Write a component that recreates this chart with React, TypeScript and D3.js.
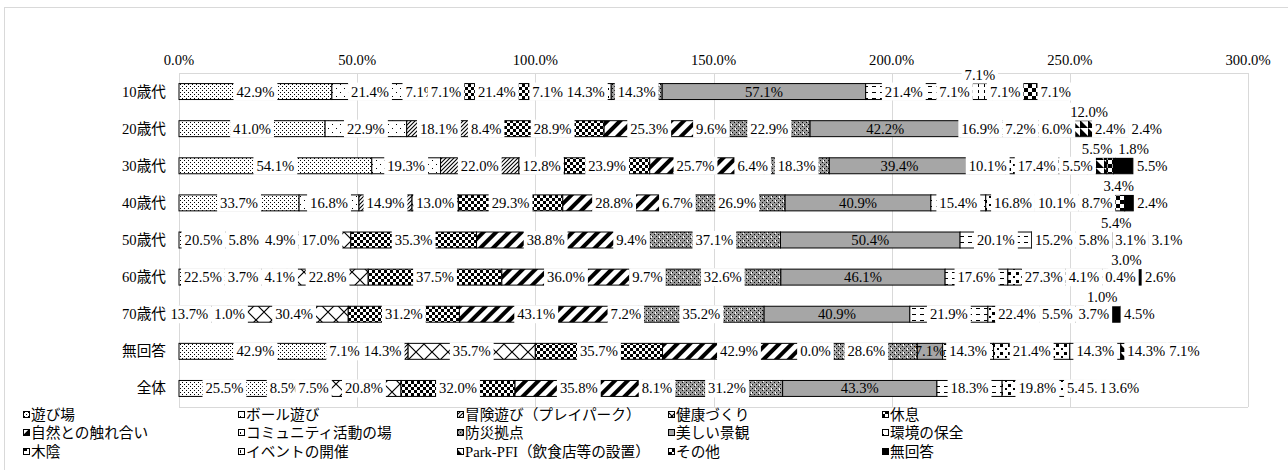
import React, { useEffect, useRef } from "react";
import * as d3 from "d3";

const categories = ["10歳代", "20歳代", "30歳代", "40歳代", "50歳代", "60歳代", "70歳代", "無回答", "全体"];

const seriesNames = [
  "遊び場",
  "ボール遊び",
  "冒険遊び（プレイパーク）",
  "健康づくり",
  "休息",
  "自然との触れ合い",
  "コミュニティ活動の場",
  "防災拠点",
  "美しい景観",
  "環境の保全",
  "木陰",
  "イベントの開催",
  "Park-PFI（飲食店等の設置）",
  "その他",
  "無回答",
];

// values (%) per category, in category order
const playground = [42.9, 41.0, 54.1, 33.7, 20.5, 22.5, 13.7, 42.9, 25.5];
const ballGames = [21.4, 22.9, 19.3, 16.8, 5.8, 3.7, 1.0, 7.1, 8.5];
const adventurePlay = [7.1, 18.1, 22.0, 14.9, 4.9, 4.1, 2.4, 14.3, 7.5];
const health = [7.1, 8.4, 12.8, 13.0, 17.0, 22.8, 30.4, 35.7, 20.8];
const rest = [21.4, 28.9, 23.9, 29.3, 35.3, 37.5, 31.2, 35.7, 32.0];
const nature = [7.1, 25.3, 25.7, 28.8, 38.8, 36.0, 43.1, 42.9, 35.8];
const community = [14.3, 9.6, 6.4, 6.7, 9.4, 9.7, 7.2, 0.0, 8.1];
const disasterBase = [14.3, 22.9, 18.3, 26.9, 37.1, 32.6, 35.2, 28.6, 31.2];
const scenery = [57.1, 42.2, 39.4, 40.9, 50.4, 46.1, 40.9, 7.1, 43.3];
const environment = [21.4, 16.9, 10.1, 15.4, 20.1, 17.6, 21.9, 14.3, 18.3];
const shade = [7.1, 7.2, 17.4, 16.8, 15.2, 27.3, 22.4, 21.4, 19.8];
const events = [7.1, 6.0, 5.5, 10.1, 5.8, 4.1, 5.5, 14.3, 5.4];
const parkPFI = [7.1, 12.0, 5.5, 8.7, 5.4, 0.4, 3.7, 14.3, 5.7];
const other = [7.1, 2.4, 1.8, 3.4, 3.1, 3.0, 1.0, 0.0, 1.5];
const noAnswer = [7.1, 2.4, 5.5, 2.4, 3.1, 2.6, 4.5, 7.1, 3.6];

const seriesValues = [
  playground, ballGames, adventurePlay, health, rest, nature, community,
  disasterBase, scenery, environment, shade, events, parkPFI, other, noAnswer,
];

const axisTicks = [0, 50, 100, 150, 200, 250, 300];
const tickLabels = ["0.0%", "50.0%", "100.0%", "150.0%", "200.0%", "250.0%", "300.0%"];

// data-label layout choices seen in the original (deleted / moved labels)
const hiddenLabels: [string, string][] = [
  ["10歳代", "その他"],
  ["70歳代", "冒険遊び（プレイパーク）"],
  ["無回答", "その他"],
];
const raisedLabels: [string, string][] = [
  ["10歳代", "イベントの開催"],
  ["20歳代", "Park-PFI（飲食店等の設置）"],
  ["30歳代", "Park-PFI（飲食店等の設置）"],
  ["30歳代", "その他"],
  ["40歳代", "その他"],
  ["50歳代", "Park-PFI（飲食店等の設置）"],
  ["60歳代", "その他"],
  ["70歳代", "その他"],
];
const rearrangedRows = ["20歳代", "30歳代", "40歳代", "50歳代", "60歳代", "70歳代"];

const W = 1288;
const H = 470;

export default function App() {
  const ref = useRef<SVGSVGElement>(null);

  useEffect(() => {
    const svg = d3.select(ref.current as SVGSVGElement);
    svg.selectAll("*").remove();
    const font = "'Liberation Serif', 'Noto Sans CJK JP', serif";
    const fs = 14.67;

    const x = d3.scaleLinear().domain([0, 300]).range([179, 1248]);
    const y = d3
      .scaleBand<string>()
      .domain(categories)
      .range([73, 407])
      .paddingInner(0.57)
      .paddingOuter(0.285);
    const bw = y.bandwidth();

    // ---------- patterns ----------
    const defs = svg.append("defs");
    const pat = (id: string, w: number, h: number, fn: (p: any) => void, transform?: string) => {
      const p = defs
        .append("pattern")
        .attr("id", id)
        .attr("patternUnits", "userSpaceOnUse")
        .attr("width", w)
        .attr("height", h);
      if (transform) p.attr("patternTransform", transform);
      p.append("rect").attr("width", w).attr("height", h).attr("fill", "#fff");
      fn(p);
    };
    const px = (p: any, xx: number, yy: number, w = 1, h = 1, c = "#000") =>
      p.append("rect").attr("x", xx).attr("y", yy).attr("width", w).attr("height", h).attr("fill", c);

    pat("p0", 4, 4, (p) => { px(p, 0, 0); px(p, 2, 2); });
    pat("p1", 8, 8, (p) => { px(p, 0, 0); px(p, 4, 4); });
    pat("p2", 4, 4, (p) => {
      p.append("path").attr("d", "M0,4L4,0M-1,1L1,-1M3,5L5,3").attr("stroke", "#000").attr("stroke-width", 1.1);
    });
    pat("p3", 16, 16, (p) => {
      p.append("path").attr("d", "M0,0L16,16M16,0L0,16").attr("stroke", "#000").attr("stroke-width", 1.2);
    });
    pat("p4", 6, 6, (p) => { px(p, 0, 0, 3, 3); px(p, 3, 3, 3, 3); });
    pat("p5", 9, 9, (p) => { px(p, 0, 0, 4, 9); }, "rotate(45)");
    pat("p6", 8, 8, (p) => { px(p, 0, 0, 1, 2); });
    pat("p7", 8, 8, (p) => {
      px(p, 0, 0, 8, 8, "#9a9a9a");
      [[0, 0], [2, 2], [4, 0], [6, 2], [0, 4], [2, 6], [4, 4], [6, 6]].forEach(([a, b]) => px(p, a, b));
      px(p, 3, 5, 1, 1, "#fff"); px(p, 7, 1, 1, 1, "#fff");
      px(p, 3, 4, 1, 1, "#fff"); px(p, 7, 0, 1, 1, "#fff");
    });
    pat("p9", 8, 6, (p) => { px(p, 0, 2, 4, 1); });
    pat("p10", 8, 8, (p) => { px(p, 0, 0, 3, 3); px(p, 5, 4, 2, 2); });
    pat("p11", 6, 6, (p) => { px(p, 0, 0, 1, 3); });
    pat("p12", 8, 8, (p) => { p.append("path").attr("d", "M0,0L0,8L8,8Z").attr("fill", "#000"); });
    pat("p13", 8, 8, (p) => { px(p, 0, 0, 4, 4); px(p, 4, 4, 4, 4); });

    const fillOf = (j: number) => (j === 8 ? "#a6a6a6" : j === 14 ? "#000" : `url(#p${j})`);

    // ---------- chart area & plot area ----------
    svg.append("rect").attr("x", 0).attr("y", 0).attr("width", W).attr("height", H).attr("fill", "#fff");
    svg
      .append("rect")
      .attr("x", 4.5)
      .attr("y", 7.5)
      .attr("width", 1400)
      .attr("height", 600)
      .attr("fill", "#fff")
      .attr("stroke", "#d9d9d9");

    const grid = svg.append("g");
    axisTicks.forEach((t) => {
      const xx = Math.round(x(t)) + 0.5;
      grid.append("line").attr("x1", xx).attr("x2", xx).attr("y1", 73).attr("y2", 407).attr("stroke", "#d9d9d9");
    });
    grid.append("line").attr("x1", 179).attr("x2", 1248).attr("y1", 73.5).attr("y2", 73.5).attr("stroke", "#d9d9d9");
    grid.append("line").attr("x1", 179).attr("x2", 1248).attr("y1", 407.5).attr("y2", 407.5).attr("stroke", "#d9d9d9");

    // tick labels
    axisTicks.forEach((t, i) => {
      svg
        .append("text")
        .attr("x", x(t))
        .attr("y", 65)
        .attr("text-anchor", "middle")
        .attr("font-family", font)
        .attr("font-size", fs)
        .attr("fill", "#000")
        .text(tickLabels[i]);
    });

    // category labels
    categories.forEach((c) => {
      svg
        .append("text")
        .attr("x", 166)
        .attr("y", (y(c) as number) + bw / 2 + 5)
        .attr("text-anchor", "end")
        .attr("font-family", font)
        .attr("font-size", fs)
        .attr("fill", "#000")
        .text(c);
    });

    // ---------- stacked bars ----------
    const table = categories.map((c, i) => {
      const o: any = { category: c };
      seriesNames.forEach((s, j) => (o[s] = seriesValues[j][i]));
      return o;
    });
    const stacked = d3.stack<any>().keys(seriesNames)(table);

    const bars = svg.append("g");
    stacked.forEach((layer, j) => {
      layer.forEach((d, i) => {
        const w = x(d[1]) - x(d[0]);
        if (w <= 0) return;
        bars
          .append("rect")
          .attr("x", x(d[0]))
          .attr("y", (y(categories[i]) as number))
          .attr("width", w)
          .attr("height", bw)
          .attr("fill", fillOf(j))
          .attr("stroke", "#000")
          .attr("stroke-width", 1);
      });
    });

    // ---------- data labels ----------
    const meas = svg
      .append("text")
      .attr("font-family", font)
      .attr("font-size", fs)
      .attr("visibility", "hidden");
    const measure = (t: string) => {
      meas.text(t);
      return (meas.node() as SVGTextElement).getComputedTextLength();
    };
    const isIn = (list: [string, string][], c: string, s: string) => list.some(([a, b]) => a === c && b === s);

    type Lab = { j: number; text: string; w: number; cx: number; cy: number; center: number };
    const labelsBySeries: Lab[][] = seriesNames.map(() => []);
    const gap = 6;

    categories.forEach((c, i) => {
      const rowCy = (y(c) as number) + bw / 2;
      const inRow: Lab[] = [];
      const raised: Lab[] = [];
      stacked.forEach((layer, j) => {
        const s = seriesNames[j];
        if (isIn(hiddenLabels, c, s)) return;
        const d = layer[i];
        const v = seriesValues[j][i];
        const text = v.toFixed(1) + "%";
        const w = measure(text);
        const center = x((d[0] + d[1]) / 2);
        const lab: Lab = { j, text, w, cx: center, cy: rowCy, center };
        if (isIn(raisedLabels, c, s)) {
          lab.cy = rowCy - 17;
          raised.push(lab);
        } else inRow.push(lab);
        labelsBySeries[j].push(lab);
      });

      if (rearrangedRows.includes(c)) {
        const last = inRow[inRow.length - 1];
        const end = x(stacked[stacked.length - 1][i][1]);
        last.cx = end + 4 + last.w / 2;
        for (let k = inRow.length - 2; k >= 0; k--) {
          const nxt = inRow[k + 1];
          const cur = inRow[k];
          cur.cx = Math.min(cur.center, nxt.cx - gap - (cur.w + nxt.w) / 2);
        }
      }
      let prevRight = -Infinity;
      raised.forEach((l) => {
        l.cx = Math.max(l.center, prevRight + gap + l.w / 2);
        prevRight = l.cx + l.w / 2;
      });
    });
    meas.remove();

    const labG = svg.append("g");
    labelsBySeries.forEach((labs, j) => {
      labs.forEach((l) => {
        if (j !== 8) {
          labG
            .append("rect")
            .attr("x", l.cx - l.w / 2 - 3)
            .attr("y", l.cy - 9)
            .attr("width", l.w + 6)
            .attr("height", 18)
            .attr("fill", "#fff");
        }
        labG
          .append("text")
          .attr("x", l.cx)
          .attr("y", l.cy + 5)
          .attr("text-anchor", "middle")
          .attr("font-family", font)
          .attr("font-size", fs)
          .attr("fill", "#000")
          .text(l.text);
      });
    });

    // ---------- legend ----------
    const legCols = [23, 238, 457, 668, 882];
    const legRows = [415, 433, 452];
    const leg = svg.append("g");
    seriesNames.forEach((s, j) => {
      const lx = legCols[j % 5];
      const ly = legRows[Math.floor(j / 5)];
      leg
        .append("rect")
        .attr("x", lx + 0.5)
        .attr("y", ly - 3.5)
        .attr("width", 6)
        .attr("height", 6)
        .attr("fill", fillOf(j))
        .attr("stroke", "#000")
        .attr("stroke-width", 1);
      leg
        .append("text")
        .attr("x", lx + 8)
        .attr("y", ly + 5)
        .attr("font-family", font)
        .attr("font-size", fs)
        .attr("fill", "#000")
        .text(s);
    });
  }, []);

  return (
    <svg
      ref={ref}
      width={W}
      height={H}
      style={{ position: "absolute", left: 0, top: 0, background: "#fff" }}
    />
  );
}
